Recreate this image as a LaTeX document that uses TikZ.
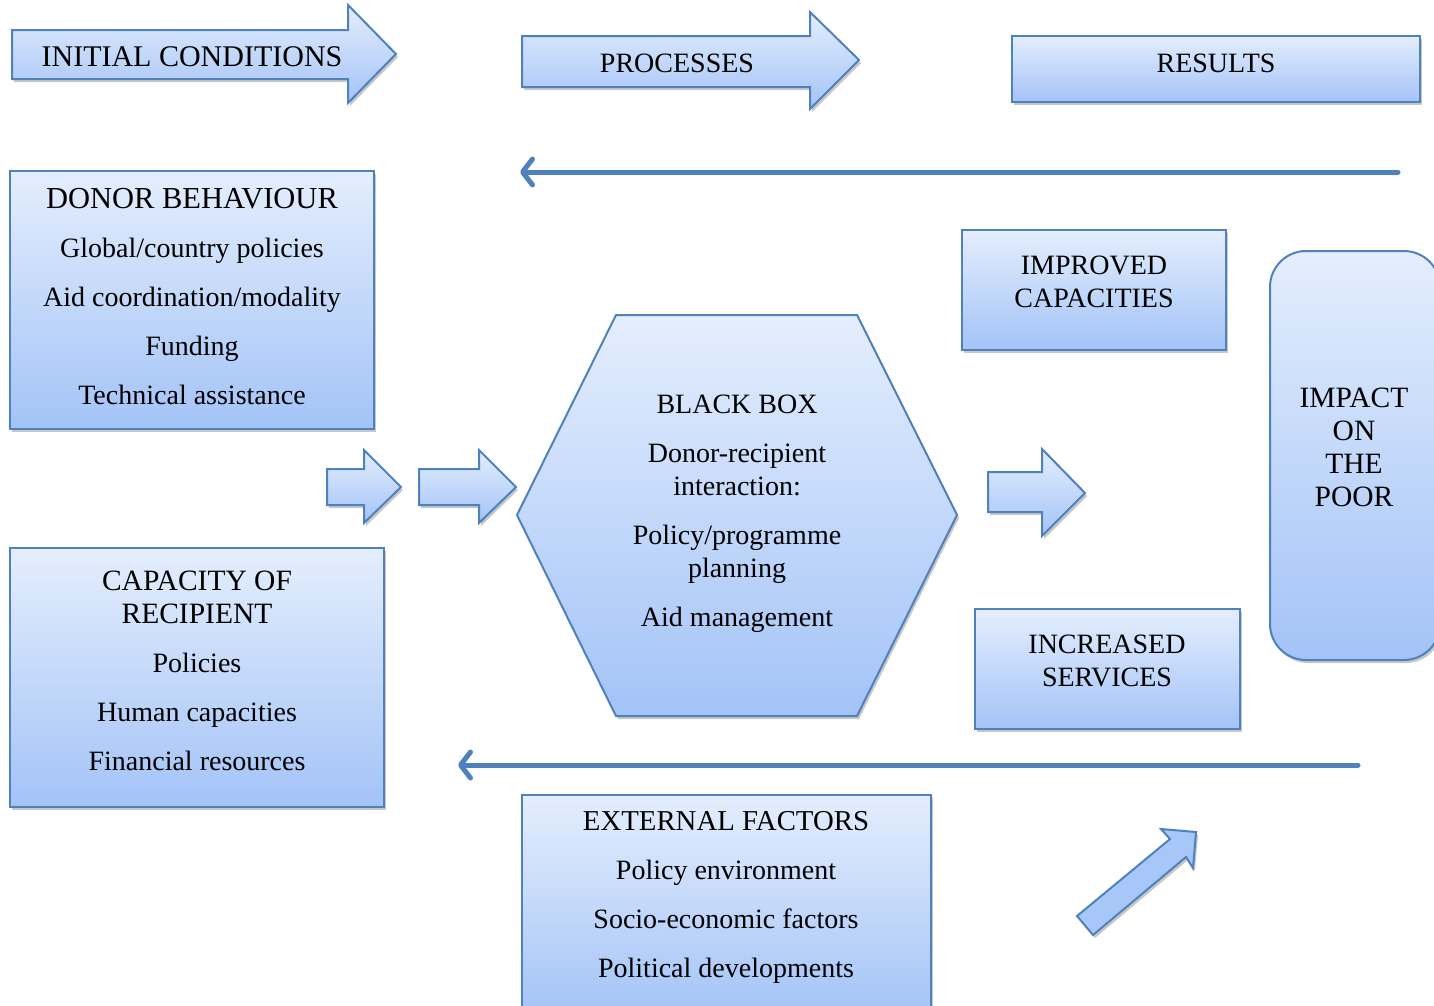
\documentclass[tikz,border=0pt]{standalone}
\usepackage{fontspec}
\setmainfont{Liberation Serif}
\usetikzlibrary{arrows.meta,shadows}
\definecolor{bord}{HTML}{4F81BD}
\definecolor{ftop}{HTML}{E4EEFD}
\definecolor{fbot}{HTML}{A3C3F7}
\definecolor{solidblue}{HTML}{A7C7F8}
\newcommand{\capsz}[1]{{\fontsize{#1}{33}\selectfont}}
\tikzset{
  softshadow/.style={drop shadow={shadow xshift=2pt,shadow yshift=-3pt,opacity=0.22,fill=black}},
  blueshape/.style={draw=bord,line width=2pt,top color=ftop,bottom color=fbot,line join=miter,softshadow},
  boxshape/.style={blueshape,rectangle,inner sep=0pt},
  lbl/.style={align=center,font=\fontsize{28}{33}\selectfont,inner sep=0pt,text=black},
  flowline/.style={draw=bord,line width=5pt,line cap=round,
    -{Straight Barb[length=10pt,width=26pt,round]},
    drop shadow={shadow xshift=1pt,shadow yshift=-3pt,opacity=0.15,fill=black}}
}
\begin{document}
\begin{tikzpicture}[x=1pt,y=-1pt]
\useasboundingbox (0,0) rectangle (1434,1005);

% header arrows
\path[blueshape] (12,30) -- (348,30) -- (348,5) -- (396,54) -- (348,103) -- (348,79) -- (12,79) -- cycle;
\node[lbl,font=\fontsize{30}{33}\selectfont] (tInit) at (192,57) {INITIAL CONDITIONS};

\path[blueshape] (522,36) -- (810,36) -- (810,12) -- (859,60) -- (810,109) -- (810,87) -- (522,87) -- cycle;
\node[lbl] (tProc) at (677,63) {PROCESSES};

\node[boxshape,minimum width=408pt,minimum height=66pt] (results) at (1216,69) {};
\node[lbl] (tRes) at (1216,63) {RESULTS};

% feedback lines
\coordinate (fbTopStart) at (1398,172);
\coordinate (fbTopEnd) at (520,172);
\draw[flowline] (fbTopStart) -- (fbTopEnd);

\coordinate (fbBotStart) at (1358,765);
\coordinate (fbBotEnd) at (458,765);
\draw[flowline] (fbBotStart) -- (fbBotEnd);

% donor behaviour
\node[boxshape,minimum width=364pt,minimum height=258pt] (donor) at (192,300) {};
\node[lbl] (tDonor) at (192,297) {{\fontsize{30.5}{33}\selectfont DONOR BEHAVIOUR}\\[16pt]Global/country policies\\[16pt]Aid coordination/modality\\[16pt]Funding\\[16pt]Technical assistance};

% capacity of recipient
\node[boxshape,minimum width=374pt,minimum height=259pt] (capacity) at (197,677.5) {};
\node[lbl] (tCap) at (197,671) {{\fontsize{29.5}{33}\selectfont CAPACITY OF}\\{\fontsize{29.5}{33}\selectfont RECIPIENT}\\[16pt]Policies\\[16pt]Human capacities\\[16pt]Financial resources};

% small arrows
\path[blueshape] (327,469) -- (364,469) -- (364,450) -- (401,487) -- (364,523) -- (364,505) -- (327,505) -- cycle;
\path[blueshape] (419,469) -- (479,469) -- (479,450) -- (516,487) -- (479,523) -- (479,505) -- (419,505) -- cycle;

% black box hexagon
\coordinate (hTL) at (616,315);
\coordinate (hTR) at (857,315);
\coordinate (hR) at (957,515);
\coordinate (hBR) at (857,716);
\coordinate (hBL) at (616,716);
\coordinate (hL) at (517,515);
\path[blueshape] (hTL) -- (hTR) -- (hR) -- (hBR) -- (hBL) -- (hL) -- cycle;
\node[lbl] (tBlack) at (737,514) {BLACK BOX\\[16pt]Donor-recipient\\interaction:\\[16pt]Policy/programme\\planning\\[16pt]Aid management};

% arrow right of hexagon
\path[blueshape] (988,472) -- (1042,472) -- (1042,449) -- (1085,493) -- (1042,536) -- (1042,512) -- (988,512) -- cycle;

% results boxes
\node[boxshape,minimum width=264pt,minimum height=120pt] (improved) at (1094,290) {};
\node[lbl] (tImp) at (1094,282) {IMPROVED\\CAPACITIES};

\node[boxshape,minimum width=265pt,minimum height=120pt] (increased) at (1107.5,669) {};
\node[lbl] (tInc) at (1107,661) {INCREASED\\SERVICES};

\node[boxshape,rounded corners=36pt,minimum width=170pt,minimum height=409pt] (impact) at (1355,455.5) {};
\node[lbl,font=\fontsize{29.5}{33}\selectfont] (tImpact) at (1354,447) {IMPACT\\ON\\THE\\POOR};

% external factors
\node[boxshape,minimum width=409pt,minimum height=222pt] (external) at (726.5,906) {};
\node[lbl] (tExt) at (726,897) {{\fontsize{28.8}{33}\selectfont EXTERNAL FACTORS}\\[16pt]Policy environment\\[16pt]Socio-economic factors\\[16pt]Political developments};

% diagonal arrow
\path[draw=bord,line width=2pt,fill=solidblue,line join=miter,softshadow]
  (1077,916) -- (1170,839) -- (1161,829) -- (1196,832) -- (1193,868) -- (1186,857) -- (1093,935) -- cycle;
\end{tikzpicture}
\end{document}
